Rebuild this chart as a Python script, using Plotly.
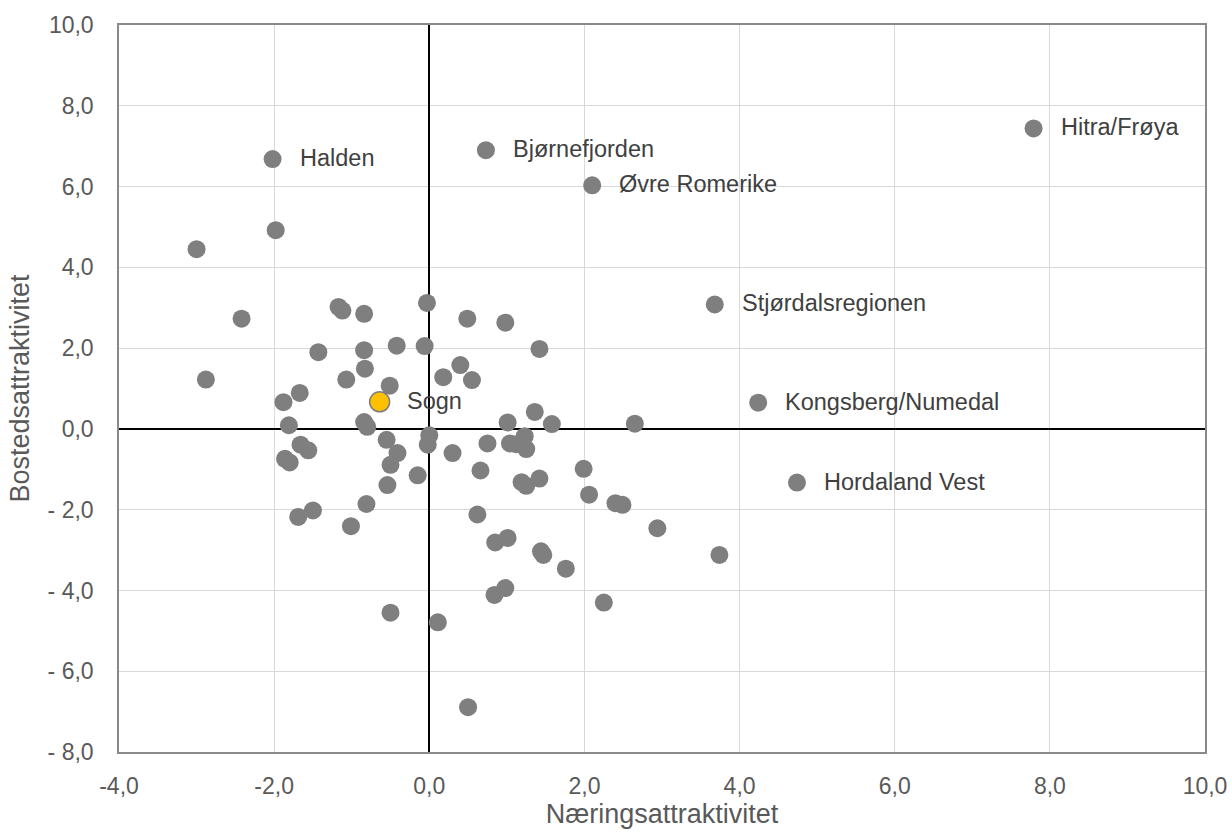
import plotly.graph_objects as go

# Labelled regions
label_names = ["Hitra/Frøya", "Halden", "Bjørnefjorden", "Øvre Romerike",
               "Stjørdalsregionen", "Kongsberg/Numedal", "Hordaland Vest"]
label_x = [7.79, -2.02, 0.73, 2.10, 3.68, 4.24, 4.74]
label_y = [7.44, 6.68, 6.90, 6.03, 3.08, 0.65, -1.33]

# Highlighted region
focus_name = ["Sogn"]
focus_x = [-0.64]
focus_y = [0.67]

# Other regions (unlabelled)
other_x = [-3.00, -1.98, -2.42, -2.88, -1.17, -1.12, -0.84, -1.43, -0.84, -0.42,
           -0.83, -1.07, -0.51, -1.88, -1.67, -1.81, -1.66, -1.56, -1.86, -1.80,
           -0.84, -0.80, -0.55, -0.41, -0.50, -0.54, -0.15, 0.00, -0.02, 0.30,
           0.75, 1.01, 1.36, 1.58, 1.04, 1.12, 1.23, 1.25, 0.66, 1.19,
           1.25, 1.42, 0.62, -1.50, -1.69, -0.81, -1.01, 0.85, 1.01, 1.44,
           1.47, 1.76, 0.84, 0.98, -0.50, 0.11, 0.50, 1.99, 2.06, 2.40,
           2.49, 2.94, 3.74, 2.25, 2.65, -0.03, 0.49, 0.98, 1.42, -0.06,
           0.40, 0.18, 0.55]
other_y = [4.45, 4.92, 2.73, 1.22, 3.02, 2.93, 2.85, 1.90, 1.95, 2.06,
           1.49, 1.22, 1.07, 0.66, 0.89, 0.09, -0.39, -0.53, -0.74, -0.83,
           0.17, 0.05, -0.27, -0.60, -0.89, -1.39, -1.15, -0.16, -0.39, -0.60,
           -0.36, 0.16, 0.42, 0.12, -0.36, -0.38, -0.18, -0.50, -1.03, -1.32,
           -1.41, -1.23, -2.12, -2.02, -2.18, -1.86, -2.41, -2.81, -2.70, -3.03,
           -3.12, -3.46, -4.11, -3.94, -4.55, -4.79, -6.89, -0.99, -1.63, -1.84,
           -1.88, -2.46, -3.12, -4.30, 0.13, 3.12, 2.73, 2.63, 1.98, 2.05,
           1.58, 1.28, 1.21]

x_ticks = [-4, -2, 0, 2, 4, 6, 8, 10]
x_tick_text = ["-4,0", "-2,0", "0,0", "2,0", "4,0", "6,0", "8,0", "10,0"]
y_ticks = [-8, -6, -4, -2, 0, 2, 4, 6, 8, 10]
y_tick_text = ["- 8,0", "- 6,0", "- 4,0", "- 2,0", "0,0", "2,0", "4,0", "6,0", "8,0", "10,0"]

x_title = "Næringsattraktivitet"
y_title = "Bostedsattraktivitet"

FONT = "Liberation Sans, Arial, sans-serif"
GREY = "#7f7f7f"

fig = go.Figure()
fig.add_trace(go.Scatter(
    x=other_x + label_x, y=other_y + label_y, mode="markers",
    marker=dict(size=18, color=GREY, line=dict(width=0)),
    hoverinfo="x+y", showlegend=False))
fig.add_trace(go.Scatter(
    x=focus_x, y=focus_y, mode="markers",
    marker=dict(size=20, color="#FFC000", line=dict(width=1.5, color="#7f7f7f")),
    showlegend=False))

for n, xv, yv in zip(label_names + focus_name, label_x + focus_x, label_y + focus_y):
    fig.add_annotation(x=xv, y=yv, text=n, showarrow=False, xanchor="left",
                       yanchor="middle", xshift=25, yshift=1,
                       font=dict(family=FONT, size=23.5, color="#404040"))

axis_common = dict(
    showgrid=True, gridcolor="#d9d9d9", gridwidth=1,
    zeroline=True, zerolinecolor="#000000", zerolinewidth=1.5,
    showline=True, linecolor="#898989", linewidth=1.5, mirror=True,
    ticks="outside", tickcolor="rgba(0,0,0,0)",
    tickfont=dict(family=FONT, size=23, color="#595959"),
)

fig.update_xaxes(range=[-4, 10], tickvals=x_ticks, ticktext=x_tick_text,
                 ticklen=13,
                 title=dict(text=x_title, font=dict(family=FONT, size=27, color="#595959"),
                            standoff=6),
                 **axis_common)
fig.update_yaxes(range=[-8, 10], tickvals=y_ticks, ticktext=y_tick_text,
                 ticklen=19,
                 title=dict(text=y_title, font=dict(family=FONT, size=27, color="#595959"),
                            standoff=10),
                 **axis_common)

fig.update_layout(
    width=1232, height=832,
    margin=dict(l=119, r=27, t=25, b=80, autoexpand=False),
    paper_bgcolor="white", plot_bgcolor="white",
    font=dict(family=FONT),
)

fig.write_html("out.html", config={"displayModeBar": False},
               post_script="document.body.style.margin='0px';document.body.style.overflow='hidden';")
